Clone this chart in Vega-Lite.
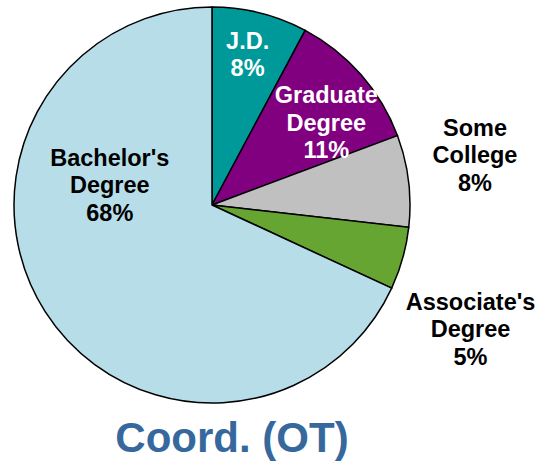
{
  "$schema": "https://vega.github.io/schema/vega-lite/v6.json",
  "width": 396,
  "height": 396,
  "autosize": "none",
  "padding": {"left": 14, "top": 7, "right": 127, "bottom": 61},
  "background": "white",
  "config": {"view": {"stroke": null}},
  "title": {
    "text": "Coord. (OT)",
    "orient": "bottom",
    "anchor": "middle",
    "frame": "group",
    "font": "Liberation Sans",
    "fontSize": 42,
    "fontWeight": "bold",
    "color": "#36689E",
    "dx": 20,
    "offset": 13
  },
  "data": {
    "values": [
      {"degree": "J.D.", "order": 1, "pct": 7.8, "label": "J.D.\n8%"},
      {"degree": "Graduate Degree", "order": 2, "pct": 11.5, "label": "Graduate\nDegree\n11%"},
      {"degree": "Some College", "order": 3, "pct": 7.5, "label": "Some\nCollege\n8%"},
      {"degree": "Associate's Degree", "order": 4, "pct": 5.1, "label": "Associate's\nDegree\n5%"},
      {"degree": "Bachelor's Degree", "order": 5, "pct": 68.1, "label": "Bachelor's\nDegree\n68%"}
    ]
  },
  "encoding": {
    "theta": {"field": "pct", "type": "quantitative", "stack": true},
    "order": {"field": "order", "type": "quantitative"}
  },
  "layer": [
    {
      "mark": {"type": "arc", "outerRadius": 198, "stroke": "black", "strokeWidth": 1.5},
      "encoding": {
        "color": {
          "field": "degree",
          "type": "nominal",
          "legend": null,
          "scale": {
            "domain": ["J.D.", "Graduate Degree", "Some College", "Associate's Degree", "Bachelor's Degree"],
            "range": ["#009999", "#800080", "#C0C0C0", "#66A532", "#B7DEE8"]
          }
        }
      }
    },
    {
      "mark": {"type": "text", "radius": 155, "dx": -2, "dy": -13, "font": "Liberation Sans", "fontSize": 23.5, "fontWeight": "bold", "fill": "white", "lineBreak": "\n", "lineHeight": 27.5, "align": "center", "baseline": "middle"},
      "encoding": {"text": {"condition": {"test": "datum.degree === 'J.D.'", "field": "label"}, "value": ""}}
    },
    {
      "mark": {"type": "text", "radius": 140, "dx": 9, "dy": -16.5, "font": "Liberation Sans", "fontSize": 23.5, "fontWeight": "bold", "fill": "white", "lineBreak": "\n", "lineHeight": 27.5, "align": "center", "baseline": "middle"},
      "encoding": {"text": {"condition": {"test": "datum.degree === 'Graduate Degree'", "field": "label"}, "value": ""}}
    },
    {
      "mark": {"type": "text", "radius": 267, "dx": -2, "dy": -43.5, "font": "Liberation Sans", "fontSize": 23.5, "fontWeight": "bold", "fill": "black", "lineBreak": "\n", "lineHeight": 27.5, "align": "center", "baseline": "middle"},
      "encoding": {"text": {"condition": {"test": "datum.degree === 'Some College'", "field": "label"}, "value": ""}}
    },
    {
      "mark": {"type": "text", "radius": 282, "dx": -13, "dy": 21.5, "font": "Liberation Sans", "fontSize": 23.5, "fontWeight": "bold", "fill": "black", "lineBreak": "\n", "lineHeight": 27.5, "align": "center", "baseline": "middle"},
      "encoding": {"text": {"condition": {"test": "datum.degree === 'Associate\\'s Degree'", "field": "label"}, "value": ""}}
    },
    {
      "mark": {"type": "text", "radius": 75, "dx": -39, "dy": -86.5, "font": "Liberation Sans", "fontSize": 23.5, "fontWeight": "bold", "fill": "black", "lineBreak": "\n", "lineHeight": 27.5, "align": "center", "baseline": "middle"},
      "encoding": {"text": {"condition": {"test": "datum.degree === 'Bachelor\\'s Degree'", "field": "label"}, "value": ""}}
    }
  ]
}
